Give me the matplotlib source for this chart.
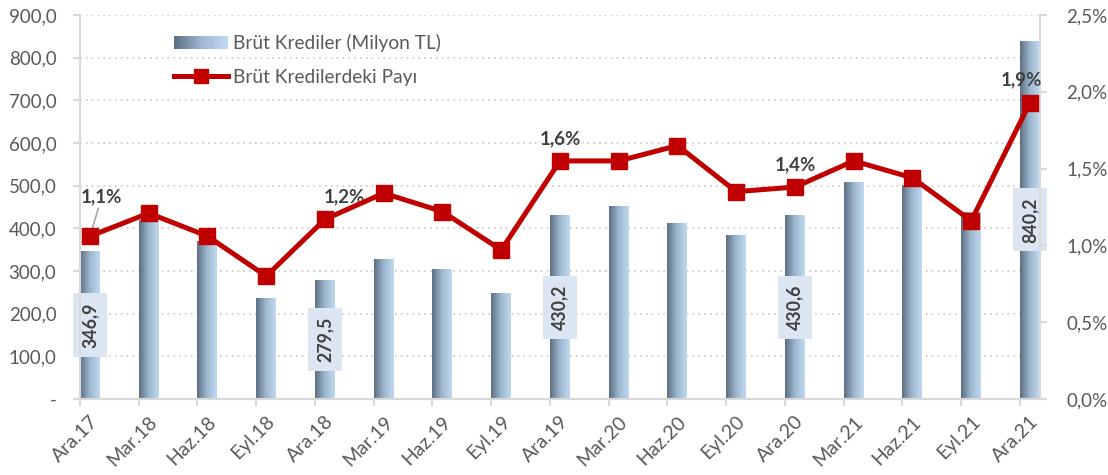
import numpy as np
import matplotlib
matplotlib.use("Agg")
from matplotlib import pyplot as plt
from matplotlib.patches import Rectangle
from matplotlib.lines import Line2D
from matplotlib.legend_handler import HandlerBase
from matplotlib.colors import LinearSegmentedColormap

plt.rcParams['font.family'] = ['Lato', 'DejaVu Sans']

# Quarterly data
periods = ["Ara.17", "Mar.18", "Haz.18", "Eyl.18", "Ara.18", "Mar.19", "Haz.19", "Eyl.19",
           "Ara.19", "Mar.20", "Haz.20", "Eyl.20", "Ara.20", "Mar.21", "Haz.21", "Eyl.21", "Ara.21"]
gross_loans = [346.9, 419, 371, 237, 279.5, 328, 305, 248,
               430.2, 452, 413, 384, 430.6, 509, 501, 439, 840.2]
loan_share = [1.06, 1.21, 1.06, 0.80, 1.17, 1.34, 1.22, 0.97,
              1.55, 1.55, 1.65, 1.35, 1.38, 1.55, 1.44, 1.16, 1.93]

# which points get value labels
bar_labels = {0: "346,9", 4: "279,5", 8: "430,2", 12: "430,6", 16: "840,2"}
share_labels = {0: "1,1%", 4: "1,2%", 8: "1,6%", 12: "1,4%", 16: "1,9%"}
# small horizontal nudges (points) for the share labels
share_nudge = {4: 14, 16: -6}

bar_cmap = LinearSegmentedColormap.from_list("bar", ["#5d6f82", "#9db7cf", "#bfd9f0"])
red = "#C00000"
grey_txt = "#595959"
dark_txt = "#404040"
axis_col = "#D9D9D9"


class GradientHandler(HandlerBase):
    def create_artists(self, legend, orig_handle, xdescent, ydescent, width, height, fontsize, trans):
        n = 30
        parts = []
        for k in range(n):
            r = Rectangle((-xdescent + width * k / n, -ydescent), width / n + 0.3, height,
                          facecolor=bar_cmap(k / (n - 1)), edgecolor="none", transform=trans)
            parts.append(r)
        return parts


fig = plt.figure(figsize=(11.08, 4.75), dpi=100)
ax = fig.add_axes([0.0722, 0.16, 0.8664, 0.8084])
ax2 = ax.twinx()

x = np.arange(len(periods))
bw = 0.34
off = 0.17

bars = ax.bar(x, gross_loans, width=bw, color="none", edgecolor="none", zorder=2)
grad = np.linspace(0, 1, 64).reshape(1, -1)
for b in bars:
    im = ax.imshow(grad, cmap=bar_cmap, aspect="auto", zorder=2,
                   extent=[b.get_x(), b.get_x() + b.get_width(), 0, b.get_height()])
    im.set_clip_path(b)

for i, txt in bar_labels.items():
    ax.text(x[i], gross_loans[i] / 2, txt, rotation=90, ha="center", va="center",
            fontsize=12.8, fontweight="bold", color=dark_txt, zorder=4,
            bbox=dict(boxstyle="square,pad=0.5", facecolor="#DCE6F2", edgecolor="none"))

ax.set_xlim(-off, len(periods) - 1 + off)
ax.set_ylim(0, 900)
ax.set_yticks(np.arange(0, 901, 100))
ax.set_yticklabels(["-"] + ["%d,0" % v for v in range(100, 901, 100)])
# labels sit under the bars, tick marks between categories
ax.set_xticks(x)
ax.set_xticklabels(periods, rotation=45, ha="right", va="top", rotation_mode="anchor")
ax.set_xticks(x - off, minor=True)
ax.grid(axis="y", color="#C8C8C8", linestyle=(0, (1, 2.5)), linewidth=1.2, zorder=0)
ax.set_axisbelow(True)

ax2.plot(x, loan_share, color=red, linewidth=3.6, marker="s", markersize=11,
         markeredgecolor=red, zorder=5)
ax2.set_ylim(0, 2.5)
ax2.set_yticks(np.arange(0, 2.51, 0.5))
ax2.set_yticklabels([("%.1f%%" % v).replace(".", ",") for v in np.arange(0, 2.51, 0.5)])

for i, txt in share_labels.items():
    if i == 0:
        ax2.annotate(txt, xy=(x[i], loan_share[i]), xytext=(x[i] + 0.2, loan_share[i] + 0.2),
                     ha="center", va="bottom", fontsize=13.5, fontweight="bold", color=dark_txt,
                     arrowprops=dict(arrowstyle="-", color="#A6A6A6", lw=1.2, shrinkA=0, shrinkB=2))
    else:
        ax2.annotate(txt, xy=(x[i], loan_share[i]), xytext=(share_nudge.get(i, 0), 10),
                     textcoords="offset points",
                     ha="center", va="bottom", fontsize=13.5, fontweight="bold", color=dark_txt)

for a in (ax, ax2):
    for s in a.spines.values():
        s.set_color(axis_col)
        s.set_linewidth(1.5)
    a.spines["top"].set_visible(False)
    a.tick_params(colors=axis_col, labelcolor=grey_txt, labelsize=13.5, length=5, width=1.5)
ax.tick_params(axis="y", pad=12)
ax2.tick_params(axis="y", pad=14)
ax.tick_params(axis="x", which="major", length=0, pad=10, labelsize=14)
ax.tick_params(axis="x", which="minor", length=5, width=1.5, color=axis_col)

handles = [Rectangle((0, 0), 1, 1),
           Line2D([], [], color=red, linewidth=3.6, marker="s", markersize=10)]
leg = ax2.legend(handles, ["Brüt Krediler (Milyon TL)", "Brüt Kredilerdeki Payı"],
                 handler_map={Rectangle: GradientHandler()},
                 loc="upper left", bbox_to_anchor=(0.086, 0.98), frameon=False,
                 fontsize=13.8, handlelength=2.8, handleheight=0.6, labelspacing=0.85,
                 handletextpad=0.3, borderaxespad=0.2)
for t in leg.get_texts():
    t.set_color(grey_txt)

fig.savefig("out.png", dpi=100)
